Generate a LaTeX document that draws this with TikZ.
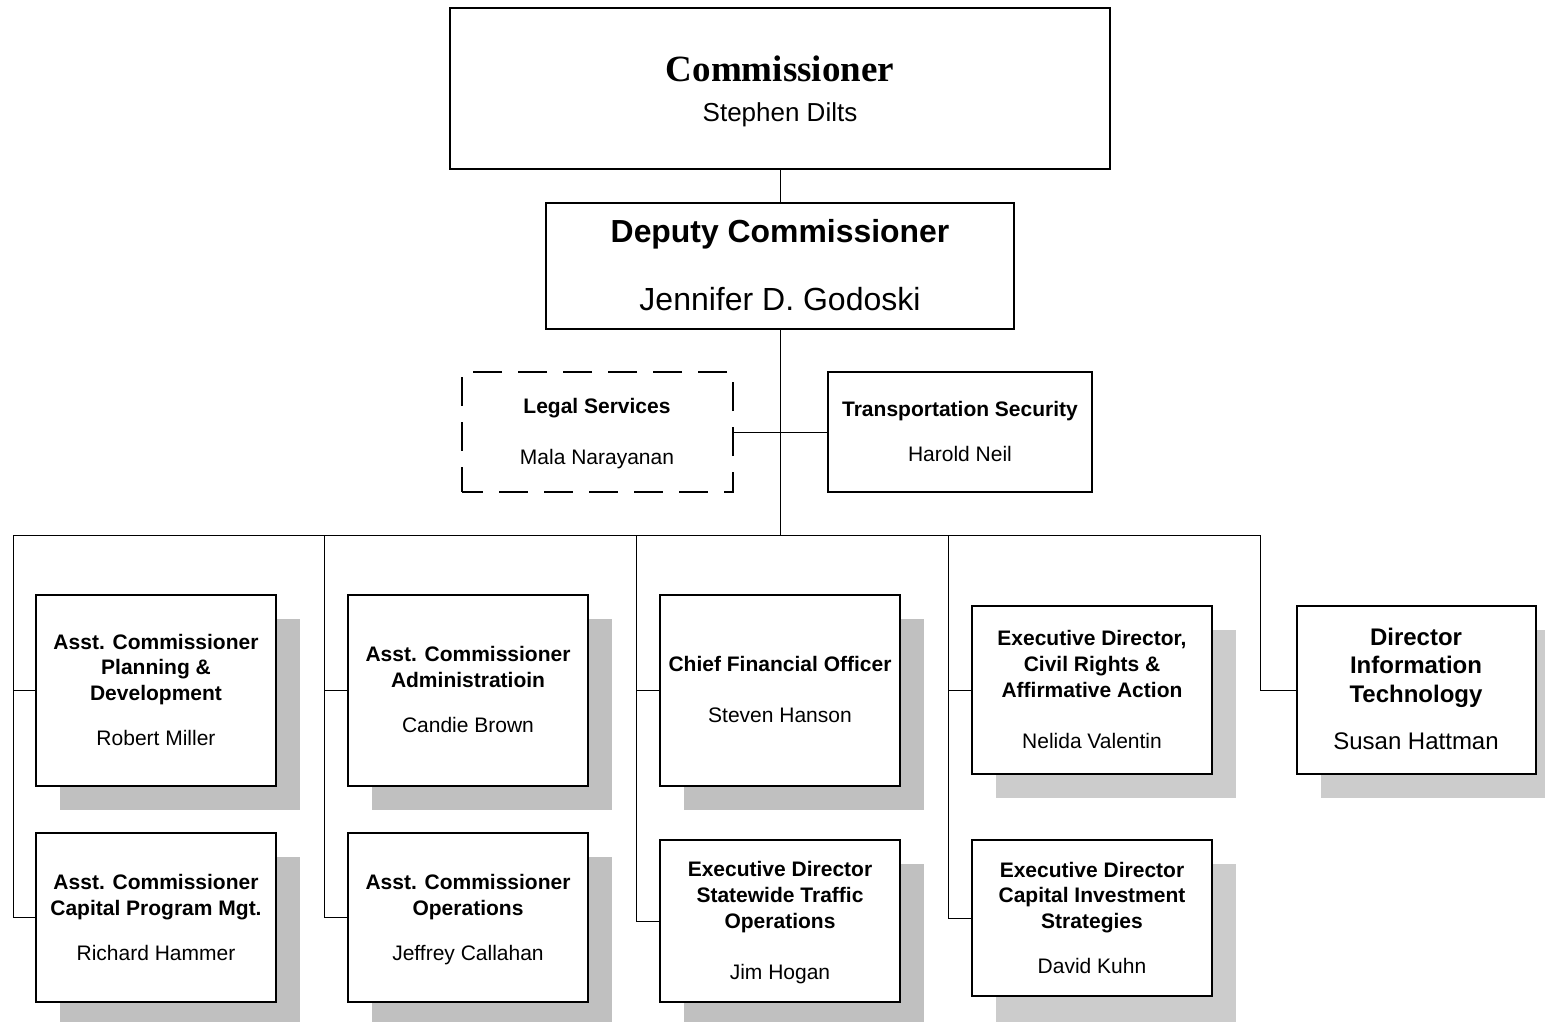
\documentclass[tikz,border=0pt]{standalone}
\usepackage{fontspec}
\setmainfont{Liberation Sans}
\newfontfamily\serifface{Liberation Serif}
\definecolor{shadowA}{RGB}{192,192,192}
\definecolor{shadowB}{RGB}{204,204,204}
\begin{document}
\begin{tikzpicture}[x=1pt,y=-1pt,
  box/.style={draw, line width=1.6pt, fill=white, rectangle, inner sep=0, outer sep=0, anchor=north west},
  dbox/.style={box, dash pattern=on 29pt off 16pt, dash phase=8pt},
  shadeA/.style={fill=shadowA, draw=none},
  shadeB/.style={fill=shadowB, draw=none},
  conn/.style={line width=0.9pt},
  ttl/.style={font=\fontsize{21}{25}\selectfont\bfseries, inner sep=0, text height=15pt, text depth=0pt},
  nm/.style={font=\fontsize{21}{25}\selectfont, inner sep=0, text height=15pt, text depth=0pt},
  bigttl/.style={font=\fontsize{24}{28}\selectfont\bfseries, inner sep=0, text height=17pt, text depth=0pt},
  bignm/.style={font=\fontsize{24}{28}\selectfont, inner sep=0, text height=17pt, text depth=0pt},
]
\useasboundingbox[fill=white] (0,0) rectangle (1545,1021);

% shadows
\fill[shadeA] (60,619) rectangle (300,810);
\fill[shadeA] (60,857) rectangle (300,1030);
\fill[shadeA] (372,619) rectangle (612,810);
\fill[shadeA] (372,857) rectangle (612,1030);
\fill[shadeA] (684,619) rectangle (924,810);
\fill[shadeA] (684,864) rectangle (924,1030);
\fill[shadeB] (996,630) rectangle (1236,798);
\fill[shadeB] (996,864) rectangle (1236,1030);
\fill[shadeB] (1321,630) rectangle (1560,798);

% top
\node[box, minimum width=660pt, minimum height=161pt] (comm) at (450,8) {};
\node[font=\serifface\fontsize{37}{40}\selectfont\bfseries, inner sep=0, text height=24pt, text depth=0pt] (commt) at (780,69) {Commissioner};
\node[font=\fontsize{26}{30}\selectfont, inner sep=0, text height=19pt, text depth=0pt] (commn) at (780,112) {Stephen Dilts};

\node[box, minimum width=468pt, minimum height=126pt] (dep) at (546,203) {};
\node[font=\fontsize{31.9}{35}\selectfont\bfseries, inner sep=0, text height=23pt, text depth=0pt] (dept) at (780,231) {Deputy Commissioner};
\node[font=\fontsize{32}{35}\selectfont, inner sep=0, text height=23pt, text depth=0pt] (depn) at (780,299) {Jennifer D. Godoski};

\node[dbox, minimum width=271pt, minimum height=120pt] (legal) at (462,372) {};
\node[ttl] (legalt) at (597,406) {Legal Services};
\node[nm] (legaln) at (597,457) {Mala Narayanan};

\node[box, minimum width=264pt, minimum height=120pt] (trans) at (828,372) {};
\node[ttl] (transt) at (960,409) {Transportation Security};
\node[nm] (transn) at (960,454) {Harold Neil};

% column 1
\node[box, minimum width=240pt, minimum height=191pt] (pd) at (36,595) {};
\node[ttl] (pd1) at (156,642) {Asst. Commissioner};
\node[ttl] (pd2) at (156,667) {Planning \&};
\node[ttl] (pd3) at (156,693) {Development};
\node[nm] (pdn) at (156,738) {Robert Miller};

\node[box, minimum width=240pt, minimum height=169pt] (cp) at (36,833) {};
\node[ttl] (cp1) at (156,882) {Asst. Commissioner};
\node[ttl] (cp2) at (156,908) {Capital Program Mgt.};
\node[nm] (cpn) at (156,953) {Richard Hammer};

% column 2
\node[box, minimum width=240pt, minimum height=191pt] (ad) at (348,595) {};
\node[ttl] (ad1) at (468,654) {Asst. Commissioner};
\node[ttl] (ad2) at (468,680) {Administratioin};
\node[nm] (adn) at (468,725) {Candie Brown};

\node[box, minimum width=240pt, minimum height=169pt] (op) at (348,833) {};
\node[ttl] (op1) at (468,882) {Asst. Commissioner};
\node[ttl] (op2) at (468,908) {Operations};
\node[nm] (opn) at (468,953) {Jeffrey Callahan};

% column 3
\node[box, minimum width=240pt, minimum height=191pt] (cf) at (660,595) {};
\node[ttl] (cf1) at (780,664) {Chief Financial Officer};
\node[nm] (cfn) at (780,715) {Steven Hanson};

\node[box, minimum width=240pt, minimum height=162pt] (st) at (660,840) {};
\node[ttl] (st1) at (780,869) {Executive Director};
\node[ttl] (st2) at (780,895) {Statewide Traffic};
\node[ttl] (st3) at (780,921) {Operations};
\node[nm] (stn) at (780,972) {Jim Hogan};

% column 4
\node[box, minimum width=240pt, minimum height=168pt] (cr) at (972,606) {};
\node[ttl] (cr1) at (1092,638) {Executive Director,};
\node[ttl] (cr2) at (1092,664) {Civil Rights \&};
\node[ttl] (cr3) at (1092,690) {Affirmative Action};
\node[nm] (crn) at (1092,741) {Nelida Valentin};

\node[box, minimum width=240pt, minimum height=156pt] (ci) at (972,840) {};
\node[ttl] (ci1) at (1092,870) {Executive Director};
\node[ttl] (ci2) at (1092,895) {Capital Investment};
\node[ttl] (ci3) at (1092,921) {Strategies};
\node[nm] (cin) at (1092,966) {David Kuhn};

% column 5
\node[box, minimum width=239pt, minimum height=168pt] (it) at (1297,606) {};
\node[bigttl] (it1) at (1416,637) {Director};
\node[bigttl] (it2) at (1416,665) {Information};
\node[bigttl] (it3) at (1416,694) {Technology};
\node[bignm] (itn) at (1416,741) {Susan Hattman};

% connectors
\coordinate (b1) at (13,535);
\coordinate (b2) at (324,535);
\coordinate (b3) at (636,535);
\coordinate (bt) at (780,535);
\coordinate (b4) at (948,535);
\coordinate (b5) at (1260,535);

\draw[conn] (comm.south) -- (dep.north);
\draw[conn] (dep.south) -- (bt);
\draw[conn] (legal.east) -- (trans.west);
\draw[conn] (b1) -- (b5);
\draw[conn] (b1) |- (pd.west);
\draw[conn] (b1) |- (cp.west);
\draw[conn] (b2) |- (ad.west);
\draw[conn] (b2) |- (op.west);
\draw[conn] (b3) |- (cf.west);
\draw[conn] (b3) |- (st.west);
\draw[conn] (b4) |- (cr.west);
\draw[conn] (b4) |- (ci.west);
\draw[conn] (b5) |- (it.west);
\end{tikzpicture}
\end{document}
